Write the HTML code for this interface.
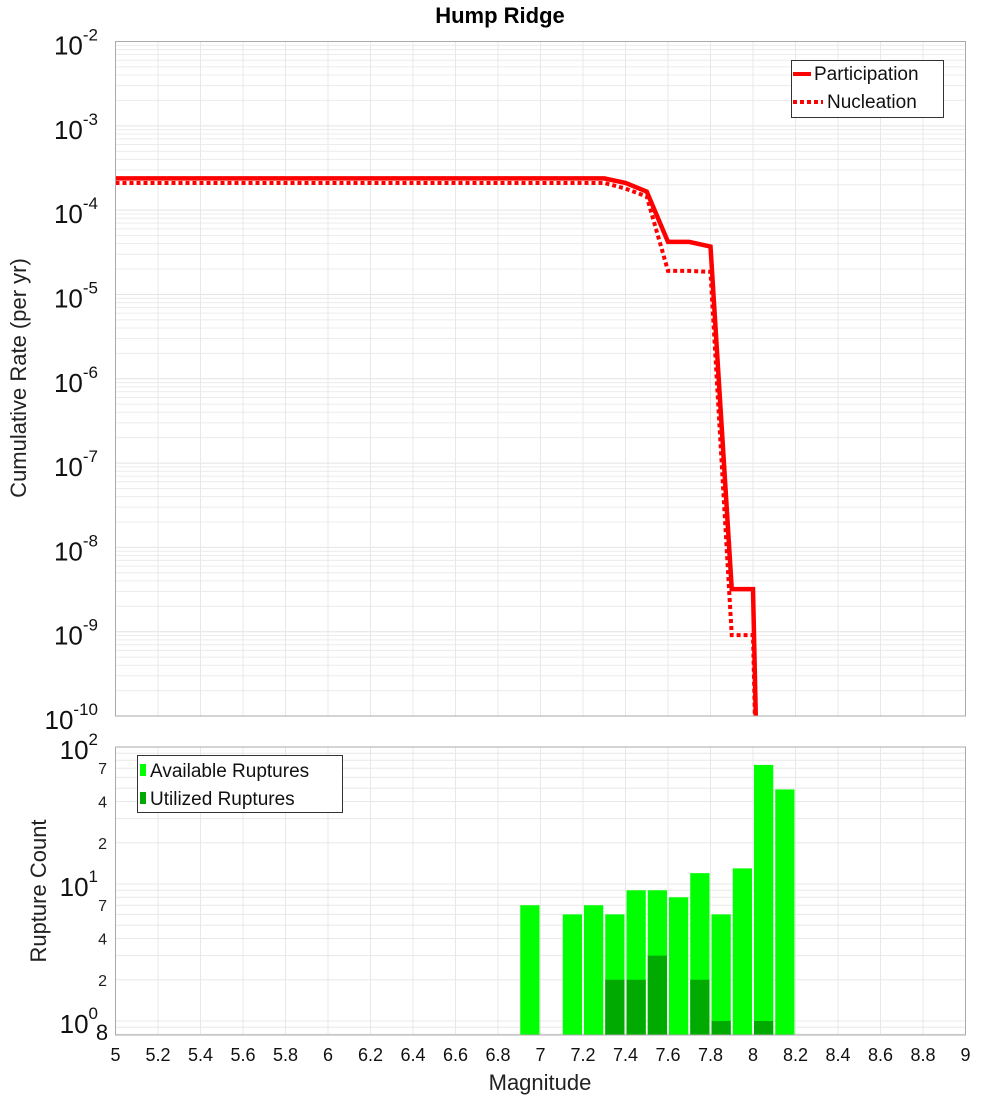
<!DOCTYPE html>
<html><head><meta charset="utf-8"><style>
body{margin:0;background:#fff;}
svg{font-family:"Liberation Sans","DejaVu Sans",sans-serif;}
</style></head><body>
<svg id="chart" width="1000" height="1100" viewBox="0 0 1000 1100">
<text x="500" y="23" text-anchor="middle" font-size="22" font-weight="bold">Hump Ridge</text>
<g id="topg"></g>
<g id="botg"></g>
<text transform="translate(26,378) rotate(-90)" text-anchor="middle" font-size="22" fill="#222">Cumulative Rate (per yr)</text>
<text transform="translate(46,891) rotate(-90)" text-anchor="middle" font-size="22" fill="#222">Rupture Count</text>
<text x="540" y="1090" text-anchor="middle" font-size="22" fill="#222">Magnitude</text>
</svg>
<script>
const mags=[5.0,5.1,5.2,5.3,5.4,5.5,5.6,5.7,5.8,5.9,6.0,6.1,6.2,6.3,6.4,6.5,6.6,6.7,6.8,6.9,7.0,7.1,7.2,7.3,7.4,7.5,7.6,7.7,7.8,7.9,8.0,8.1];
const participation=[2.38e-4,2.38e-4,2.38e-4,2.38e-4,2.38e-4,2.38e-4,2.38e-4,2.38e-4,2.38e-4,2.38e-4,2.38e-4,2.38e-4,2.38e-4,2.38e-4,2.38e-4,2.38e-4,2.38e-4,2.38e-4,2.38e-4,2.38e-4,2.38e-4,2.38e-4,2.38e-4,2.38e-4,2.1e-4,1.66e-4,4.2e-5,4.2e-5,3.7e-5,3.2e-9,3.2e-9,1e-20];
const nucleation=[2.1e-4,2.1e-4,2.1e-4,2.1e-4,2.1e-4,2.1e-4,2.1e-4,2.1e-4,2.1e-4,2.1e-4,2.1e-4,2.1e-4,2.1e-4,2.1e-4,2.1e-4,2.1e-4,2.1e-4,2.1e-4,2.1e-4,2.1e-4,2.1e-4,2.1e-4,2.1e-4,2.1e-4,1.8e-4,1.45e-4,1.9e-5,1.9e-5,1.85e-5,9.1e-10,9.1e-10,1e-20];
const binCenters=[6.95,7.15,7.25,7.35,7.45,7.55,7.65,7.75,7.85,7.95,8.05,8.15];
const available=[7,6,7,6,9,9,8,12,6,13,74,49];
const utilized=[0,0,0,2,2,3,0,2,1,0,1,0];
const xTicks=[5,5.2,5.4,5.6,5.8,6,6.2,6.4,6.6,6.8,7,7.2,7.4,7.6,7.8,8,8.2,8.4,8.6,8.8,9];
const topExps=[-2,-3,-4,-5,-6,-7,-8,-9,-10];
const botExps=[2,1,0];
const botMinor=[2,4,7];

const NS="http://www.w3.org/2000/svg";
const L=115.5,R=965.5;
const X=m=>L+(m-5)/4*(R-L);
const T0=41.5,T1=716;
const YT=v=>T0+(-2-Math.log10(v))/8*(T1-T0);
const B0=747,B1=1035,BD=137,B1y=1021;
const YB=v=>B1y-Math.log10(v)*BD;
function el(p,t,a,name,txt){const e=document.createElementNS(NS,t);for(const k in a)e.setAttribute(k,a[k]);


if(txt!==undefined)e.textContent=txt;p.appendChild(e);return e;}
const gTop=document.getElementById('topg'),gBot=document.getElementById('botg');
const defs=el(document.getElementById('chart'),'defs',{},'defs');
const cp=el(defs,'clipPath',{id:'ct'},'clip-top');el(cp,'rect',{x:L,y:T0,width:R-L,height:T1-T0},'clip-rect');
const cp2=el(defs,'clipPath',{id:'cb'},'clip-bot');el(cp2,'rect',{x:L,y:B0,width:R-L,height:B1-B0},'clip-rect');
for(let e=-10;e<-2;e++){for(let k=1;k<10;k++){const y=YT(k*Math.pow(10,e));if(y<T0||y>T1)continue;
el(gTop,'line',{x1:L,x2:R,y1:y,y2:y,stroke:k==1?'#e4e4e4':'#ececec','stroke-width':1},'grid-line-y');}}
for(let e=0;e<2;e++){for(let k=1;k<10;k++){const y=YB(k*Math.pow(10,e));if(y<B0||y>B1)continue;
el(gBot,'line',{x1:L,x2:R,y1:y,y2:y,stroke:'#e8e8e8','stroke-width':1},'grid-line-y');}}
el(gBot,'line',{x1:L,x2:R,y1:YB(0.9),y2:YB(0.9),stroke:'#e8e8e8'},'grid-line-y');
el(gBot,'line',{x1:L,x2:R,y1:YB(0.8),y2:YB(0.8),stroke:'#e8e8e8'},'grid-line-y');
xTicks.forEach(m=>{const x=X(m);
el(gTop,'line',{x1:x,x2:x,y1:T0,y2:T1,stroke:'#e8e8e8'},'grid-line-x');
el(gBot,'line',{x1:x,x2:x,y1:B0,y2:B1,stroke:'#e8e8e8'},'grid-line-x');
el(gBot,'text',{x:x,y:1061,'text-anchor':'middle','font-size':18,fill:'#111'},'x-tick-label',String(m));});
topExps.forEach(e=>{const y=YT(Math.pow(10,e));const t=el(gTop,'text',{x:98,y:y+13,'text-anchor':'end','font-size':26,fill:'#111'},'y-tick-label','10');
el(t,'tspan',{dy:-14,'font-size':17},'y-tick-exponent',String(e));});
botExps.forEach(e=>{const y=YB(Math.pow(10,e));const t=el(gBot,'text',{x:98,y:y+12,'text-anchor':'end','font-size':26,fill:'#111'},'y-tick-label','10');
el(t,'tspan',{dy:-14,'font-size':17},'y-tick-exponent',String(e));});
[1,10].forEach(d=>botMinor.forEach(k=>{const y=YB(k*d);el(gBot,'text',{x:107,y:y+6,'text-anchor':'end','font-size':16,fill:'#222'},'y-minor-label',String(k));}));
el(gBot,'text',{x:102,y:1040,'text-anchor':'middle','font-size':22,fill:'#111'},'y-minor-label','8');
const gL=el(gTop,'g',{'clip-path':'url(#ct)'},'series-group');
el(gL,'polyline',{points:mags.map((m,i)=>X(m)+','+YT(nucleation[i])).join(' '),fill:'none',stroke:'#f00','stroke-width':4,'stroke-dasharray':'4,3'},'nucleation-line');
el(gL,'polyline',{points:mags.map((m,i)=>X(m)+','+YT(participation[i])).join(' '),fill:'none',stroke:'#f00','stroke-width':4.5},'participation-line');
el(gTop,'rect',{x:L,y:T0,width:R-L,height:T1-T0,fill:'none',stroke:'#aaa'},'plot-frame-top');
el(gTop,'rect',{x:791.5,y:60.5,width:152,height:57,fill:'#fff',stroke:'#333'},'legend-box');
el(gTop,'line',{x1:793,x2:811,y1:74,y2:74,stroke:'#f00','stroke-width':4},'legend-participation-swatch');
el(gTop,'text',{x:814,y:80,'font-size':19,fill:'#111'},'legend-participation','Participation');
el(gTop,'line',{x1:793,x2:823,y1:102,y2:102,stroke:'#f00','stroke-width':4,'stroke-dasharray':'4,3'},'legend-nucleation-swatch');
el(gTop,'text',{x:827,y:108,'font-size':19,fill:'#111'},'legend-nucleation','Nucleation');
const gB=el(gBot,'g',{'clip-path':'url(#cb)'},'bars-group');
const bw=X(5.1)-X(5)-2;
binCenters.forEach((c,i)=>{const x=X(c-0.05)+1;
el(gB,'rect',{x:x,y:YB(available[i]),width:bw,height:B1-YB(available[i]),fill:'#00ff00'},'bar-available');
if(utilized[i]>0)el(gB,'rect',{x:x,y:YB(utilized[i]),width:bw,height:B1-YB(utilized[i]),fill:'#00aa00'},'bar-utilized');});
el(gBot,'rect',{x:L,y:B0,width:R-L,height:B1-B0,fill:'none',stroke:'#aaa'},'plot-frame-bottom');
el(gBot,'rect',{x:137.5,y:755.5,width:205,height:57,fill:'#fff',stroke:'#333'},'legend-box-bottom');
el(gBot,'rect',{x:140,y:764,width:6,height:12,fill:'#00ff00'},'legend-available-swatch');
el(gBot,'text',{x:150,y:777,'font-size':19,fill:'#111'},'legend-available','Available Ruptures');
el(gBot,'rect',{x:140,y:792,width:6,height:12,fill:'#00aa00'},'legend-utilized-swatch');
el(gBot,'text',{x:150,y:805,'font-size':19,fill:'#111'},'legend-utilized','Utilized Ruptures');
</script>
</body></html>
